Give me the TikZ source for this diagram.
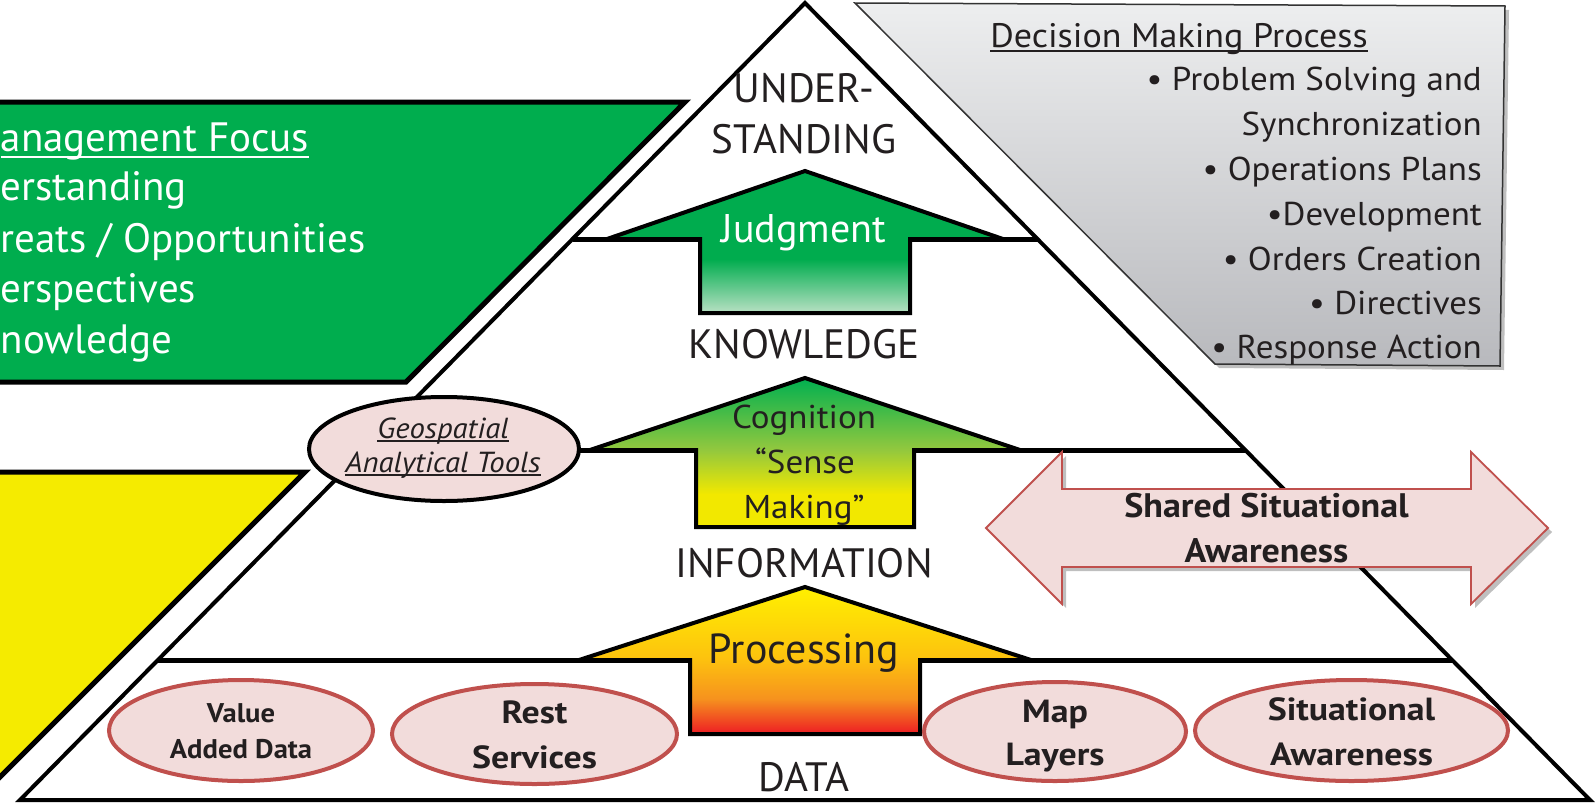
\documentclass[tikz,border=0pt]{standalone}
\usepackage{fontspec}
\usetikzlibrary{shapes.geometric,shadows}
\newfontfamily\fCap{PT Sans}[FakeStretch=1.0]
\newfontfamily\fGreen{PT Sans}[FakeStretch=1.0]
\newfontfamily\fReg{PT Sans}[FakeStretch=1.06]
\newfontfamily\fBold{PT Sans}[FakeStretch=1.12]
\newcommand\ulx[3]{\setbox0=\hbox{#3}\rlap{\rule[-#1]{\wd0}{#2}}\box0}
\definecolor{gshape}{RGB}{0,173,78}
\definecolor{yshape}{RGB}{245,235,0}
\definecolor{pinkf}{RGB}{242,220,219}
\definecolor{redb}{RGB}{192,80,77}
\definecolor{txt}{RGB}{35,31,32}
\definecolor{greyt}{RGB}{237,238,239}
\definecolor{greyb}{RGB}{184,185,189}
\definecolor{jgreen}{RGB}{0,172,78}
\definecolor{jpale}{RGB}{185,225,196}
\definecolor{cgr}{RGB}{0,176,80}
\definecolor{clg}{RGB}{146,200,62}
\definecolor{cyel}{RGB}{242,232,0}
\definecolor{pyel}{RGB}{255,240,0}
\definecolor{pgold}{RGB}{253,195,14}
\definecolor{porg}{RGB}{246,146,30}
\definecolor{pred}{RGB}{237,28,36}
\pgfdeclareverticalshading{shjudg}{100bp}{color(0bp)=(jpale); color(25bp)=(jpale); color(44bp)=(jgreen); color(100bp)=(jgreen)}
\pgfdeclareverticalshading{shcog}{100bp}{color(0bp)=(cyel); color(36bp)=(cyel); color(51bp)=(clg); color(75bp)=(cgr); color(100bp)=(cgr)}
\pgfdeclareverticalshading{shproc}{100bp}{color(0bp)=(pred); color(25bp)=(pred); color(37bp)=(porg); color(51bp)=(pgold); color(75bp)=(pyel); color(100bp)=(pyel)}
\begin{document}
\begin{tikzpicture}[x=1pt,y=-1pt,
  side/.style={draw=black, line width=5pt, line join=miter},
  edge/.style={draw=black, line width=4pt, line join=miter},
  level/.style={draw=black, line width=5pt},
  arrowb/.style={draw=black, line width=4pt, line join=miter},
  geoell/.style={ellipse, draw=black, line width=4pt, fill=pinkf, inner sep=0pt},
  dataell/.style={ellipse, draw=redb, line width=4pt, fill=pinkf, inner sep=0pt},
  shad/.style={drop shadow={shadow xshift=4pt, shadow yshift=-4pt, opacity=0.25, fill=black}},
  t/.style={inner sep=0pt, anchor=base, text=txt},
  capfont/.style={font=\fCap\fontsize{41}{49}\selectfont},
  greenfont/.style={font=\fGreen\fontsize{41}{49}\selectfont},
  boxfont/.style={font=\fReg\fontsize{33}{40}\selectfont},
  ellfont/.style={font=\fBold\bfseries\fontsize{32}{38}\selectfont},
]
\useasboundingbox (0,0) rectangle (1595,806);
\fill[white] (0,0) rectangle (1595,806);

% side shapes
\path[side, fill=gshape] (-30,102) -- (685,102) -- (406,382) -- (-30,382) -- cycle;
\path[side, fill=yshape] (-30,472) -- (305,472) -- (-30,807) -- cycle;

% grey box
\shadedraw[top color=greyt, bottom color=greyb, draw=black!80, line width=1.5pt, shad]
  (855,3) -- (1505,6) -- (1500,366) -- (1215,364) -- cycle;

% pyramid
\path[edge, fill=white] (805,3) -- (1590,800) -- (20,800) -- cycle;
\draw[level] (572.5,239) -- (1037.5,239);
\draw[level] (364.7,450) -- (1245.3,450);
\draw[level] (157.9,660) -- (1452.1,660);

% arrows
\shadedraw[arrowb, shading=shjudg] (805,171) -- (1003,239) -- (910,239) -- (910,313) -- (700,313) -- (700,239) -- (607,239) -- cycle;
\shadedraw[arrowb, shading=shcog] (805,378) -- (1020,450) -- (914,450) -- (914,527) -- (696,527) -- (696,450) -- (590,450) -- cycle;
\shadedraw[arrowb, shading=shproc] (805,587) -- (1031,660) -- (920,660) -- (920,734) -- (690,734) -- (690,660) -- (579,660) -- cycle;

% ellipses
\node[geoell, minimum width=270pt, minimum height=104pt] (geo) at (444,449) {};
\node[dataell, minimum width=264pt, minimum height=101pt] (vad) at (241,730.5) {};
\node[dataell, minimum width=285pt, minimum height=100pt] (rest) at (534.5,734) {};
\node[dataell, minimum width=262pt, minimum height=99pt] (map) at (1055,731.5) {};
\node[dataell, minimum width=313pt, minimum height=101pt] (sit) at (1351.5,730.5) {};

% shared situational awareness double arrow
\path[draw=redb, line width=1.8pt, fill=pinkf, line join=miter, shad]
  (986,528) -- (1062,452) -- (1062,489) -- (1471,489) -- (1471,452) -- (1548,528)
  -- (1471,604) -- (1471,567) -- (1062,567) -- (1062,604) -- cycle;

% green text
\node[t, greenfont, text=white, anchor=base west] (g1) at (0.5,151) {\ulx{7pt}{2pt}{anagement Focus}};
\node[t, greenfont, text=white, anchor=base west] (g2) at (0.5,200) {erstanding};
\node[t, greenfont, text=white, anchor=base west] (g3) at (0.5,252) {reats / Opportunities};
\node[t, greenfont, text=white, anchor=base west] (g4) at (0.5,302) {erspectives};
\node[t, greenfont, text=white, anchor=base west] (g5) at (0.5,353) {nowledge};

% grey box text
\node[t, font=\fReg\fontsize{34}{40}\selectfont] (dmp) at (1179,47) {\ulx{5pt}{1.8pt}{Decision Making Process}};
\node[t, boxfont, anchor=base east] (b1) at (1482,90) {• Problem Solving and};
\node[t, boxfont, anchor=base east] (b2) at (1482,135) {Synchronization};
\node[t, boxfont, anchor=base east] (b3) at (1482,180) {• Operations Plans};
\node[t, boxfont, anchor=base east] (b4) at (1482,225) {•Development};
\node[t, boxfont, anchor=base east] (b5) at (1482,270) {• Orders Creation};
\node[t, boxfont, anchor=base east] (b6) at (1482,314) {• Directives};
\node[t, boxfont, anchor=base east] (b7) at (1482,358) {• Response Action};

% pyramid labels
\node[t, capfont] (und1) at (804,102) {UNDER-};
\node[t, capfont] (und2) at (804,153) {STANDING};
\node[t, capfont] (know) at (804,358) {KNOWLEDGE};
\node[t, capfont] (info) at (804,577) {INFORMATION};
\node[t, capfont] (data) at (804,791) {DATA};

% arrow texts
\node[t, font=\fGreen\fontsize{40}{48}\selectfont, text=white] (judg) at (804,242) {Judgment};
\node[t, font=\fReg\fontsize{33}{40}\selectfont] (cog1) at (804,428) {Cognition};
\node[t, font=\fReg\fontsize{33}{40}\selectfont] (cog2) at (805,473) {“Sense};
\node[t, font=\fReg\fontsize{33}{40}\selectfont] (cog3) at (804,518) {Making”};
\node[t, font=\fCap\fontsize{42}{50}\selectfont] (proc) at (804,663) {Processing};

% ellipse texts
\node[t, font=\fReg\itshape\fontsize{29}{35}\selectfont] (geo1) at (443,438) {\ulx{4pt}{1.6pt}{Geospatial}};
\node[t, font=\fReg\itshape\fontsize{29}{35}\selectfont] (geo2) at (443,472) {\ulx{4pt}{1.6pt}{Analytical Tools}};
\node[t, font=\fReg\bfseries\fontsize{27}{33}\selectfont] (vad1) at (241,722) {Value};
\node[t, font=\fReg\bfseries\fontsize{27}{33}\selectfont] (vad2) at (241,758) {Added Data};
\node[t, ellfont] (rest1) at (534.5,723) {Rest};
\node[t, ellfont] (rest2) at (534.5,768) {Services};
\node[t, ellfont] (map1) at (1055,722) {Map};
\node[t, ellfont] (map2) at (1055,765) {Layers};
\node[t, ellfont] (sit1) at (1351.5,720) {Situational};
\node[t, ellfont] (sit2) at (1351.5,765) {Awareness};
\node[t, font=\fReg\bfseries\fontsize{34}{40}\selectfont] (ssa1) at (1266.5,517) {Shared Situational};
\node[t, font=\fReg\bfseries\fontsize{34}{40}\selectfont] (ssa2) at (1266.5,562) {Awareness};
\end{tikzpicture}
\end{document}
